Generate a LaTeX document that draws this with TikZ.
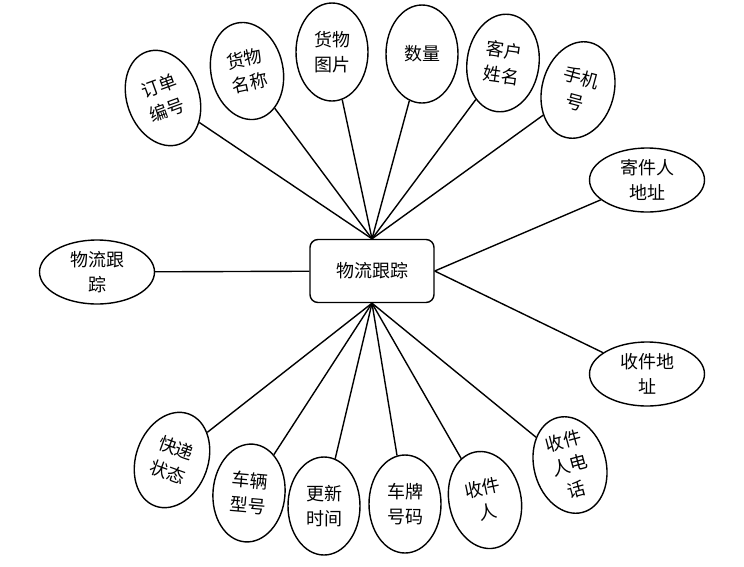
\documentclass[tikz,border=0pt]{standalone}
\usepackage{fontspec}
\newfontfamily\cjk{Noto Sans CJK SC}
\usetikzlibrary{shapes.geometric}
\tikzset{
  attr/.style={draw, ellipse, line width=1.4pt, inner sep=0pt,
    minimum width=72pt, minimum height=98pt, align=center,
    font=\cjk\fontsize{18}{25}\selectfont},
  wideattr/.style={attr, minimum width=115pt, minimum height=64pt},
  hub/.style={draw, rounded corners=8pt, line width=1.4pt,
    minimum width=124pt, minimum height=63pt,
    font=\cjk\fontsize{18}{25}\selectfont},
  link/.style={line width=1.4pt}
}
\begin{document}
\begin{tikzpicture}[x=1pt,y=-1pt]
  \useasboundingbox (0,0) rectangle (744,566);
  \node[hub] (track) at (372,271) {物流跟踪};
  \node[wideattr] (logis) at (97,272) {物流跟\\踪};
  \draw[link] (logis) -- (track);
  \foreach \nm/\x/\y/\r/\txt in {orderno/163/98/20/{订单\\编号},
      goodsname/247/71/12/{货物\\名称}, goodspic/332/52/0/{货物\\图片},
      qty/422/54/0/{数量}, custname/503/63/-8/{客户\\姓名},
      phone/578/90/-15/{手机\\号}} {
    \node[attr, rotate=\r] (\nm) at (\x,\y) {\txt};
    \draw[link] (\nm) -- (track.north);
  }
  \foreach \nm/\x/\y/\txt in {senderaddr/647/180/{寄件人\\地址},
      recvaddr/647/374/{收件地\\址}} {
    \node[wideattr] (\nm) at (\x,\y) {\txt};
    \draw[link] (\nm) -- (track.east);
  }
  \foreach \nm/\x/\y/\r/\txt in {expstate/172/460/-20/{快递\\状态},
      vehicle/249/493/-5/{车辆\\型号}, updtime/324/506/0/{更新\\时间},
      plate/405/504/0/{车牌\\号码}, receiver/485/500/12/{收件\\人},
      recvphone/570/465/15/{收件\\人电\\话}} {
    \node[attr, rotate=\r] (\nm) at (\x,\y) {\txt};
    \draw[link] (\nm) -- (track.south);
  }
\end{tikzpicture}
\end{document}
